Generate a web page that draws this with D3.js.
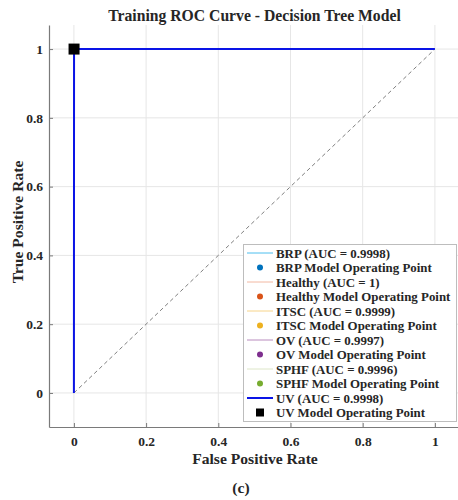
<!DOCTYPE html>
<html>
<head>
<meta charset="utf-8">
<script src="https://cdn.jsdelivr.net/npm/d3@7"></script>
<style>
  html, body { margin: 0; padding: 0; background: #fff; }
  svg { display: block; }
  text { font-family: "Liberation Serif", "Times New Roman", serif; font-weight: bold; fill: #262626; }
</style>
</head>
<body>
<svg id="chart" width="458" height="500"></svg>
<script>
// Class names and their training AUC values
const classes = ["BRP", "Healthy", "ITSC", "OV", "SPHF", "UV"];
const aucLabels = ["0.9998", "1", "0.9999", "0.9997", "0.9996", "0.9998"];
// Operating point of each one-vs-rest model (false positive rate, true positive rate)
const opFpr = [0.0004, 0, 0.0002, 0.0006, 0.0008, 0.0004];
const opTpr = [1, 1, 1, 1, 1, 1];
// Curve and marker colours
const lineColors = ["#4DBEEE", "#F2B8A2", "#F7D48A", "#B98CBE", "#DDE6C8", "#0A14E6"];
const pointColors = ["#0072BD", "#D95319", "#EDB120", "#7E2F8E", "#77AC30", "#000000"];
// Tick values
const xTicks = [0, 0.2, 0.4, 0.6, 0.8, 1];
const yTicks = [0, 0.2, 0.4, 0.6, 0.8, 1];

const svg = d3.select("#chart");
const plotLeft = 49, plotRight = 458, plotTop = 25, plotBottom = 427;

const x = d3.scaleLinear().domain([-0.069, 1.064]).range([plotLeft, plotRight]);
const y = d3.scaleLinear().domain([-0.099, 1.07]).range([plotBottom, plotTop]);

// Grid
const grid = svg.append("g");
grid.selectAll("line.gx").data(xTicks).join("line")
  .attr("x1", d => x(d)).attr("x2", d => x(d))
  .attr("y1", plotTop).attr("y2", plotBottom)
  .attr("stroke", "#e6e6e6").attr("stroke-width", 1);
grid.selectAll("line.gy").data(yTicks).join("line")
  .attr("y1", d => y(d)).attr("y2", d => y(d))
  .attr("x1", plotLeft).attr("x2", plotRight)
  .attr("stroke", "#e6e6e6").attr("stroke-width", 1);

// Axes (ticks pointing inward)
const fmt = d => d3.format("~g")(d);
const xAxis = svg.append("g").attr("transform", `translate(0,${plotBottom})`)
  .call(d3.axisBottom(x).tickValues(xTicks).tickFormat(fmt).tickSizeInner(-4).tickSizeOuter(0).tickPadding(9));
const yAxis = svg.append("g").attr("transform", `translate(${plotLeft},0)`)
  .call(d3.axisLeft(y).tickValues(yTicks).tickFormat(fmt).tickSizeInner(-4).tickSizeOuter(0).tickPadding(6));
[xAxis, yAxis].forEach(a => {
  a.attr("font-family", null).attr("font-size", null);
  a.select(".domain").attr("stroke", "#7a7a7a").attr("stroke-width", 1.2);
  a.selectAll(".tick line").attr("stroke", "#7a7a7a");
  a.selectAll(".tick text").style("font-size", "13.5px").attr("fill", "#262626");
});

// Chance diagonal
svg.append("line")
  .attr("x1", x(0)).attr("y1", y(0)).attr("x2", x(1)).attr("y2", y(1))
  .attr("stroke", "#7f7f7f").attr("stroke-width", 1).attr("stroke-dasharray", "4,3");

// ROC curves
const line = d3.line().x(d => x(d[0])).y(d => y(d[1]));
classes.forEach((c, i) => {
  const pts = [[0, 0], [opFpr[i], opTpr[i]], [1, 1]];
  svg.append("path").attr("d", line(pts))
    .attr("fill", "none")
    .attr("stroke", lineColors[i])
    .attr("stroke-width", i === 5 ? 2 : 1);
});

// Operating points
classes.forEach((c, i) => {
  if (i === 5) {
    svg.append("rect")
      .attr("x", x(opFpr[i]) - 5.5).attr("y", y(opTpr[i]) - 5.5)
      .attr("width", 11).attr("height", 11).attr("fill", pointColors[i]);
  } else {
    svg.append("circle")
      .attr("cx", x(opFpr[i])).attr("cy", y(opTpr[i])).attr("r", 3)
      .attr("fill", pointColors[i]);
  }
});

// Title and axis labels
svg.append("text").attr("x", 254.5).attr("y", 21).attr("text-anchor", "middle")
  .style("font-size", "15.7px").text("Training ROC Curve - Decision Tree Model");
svg.append("text").attr("x", 255).attr("y", 464).attr("text-anchor", "middle")
  .style("font-size", "15.6px").text("False Positive Rate");
svg.append("text").attr("transform", `translate(23,222) rotate(-90)`)
  .attr("text-anchor", "middle").style("font-size", "15.6px").text("True Positive Rate");
svg.append("text").attr("x", 241).attr("y", 493).attr("text-anchor", "middle")
  .style("font-size", "15.6px").text("(c)");

// Legend
const legend = svg.append("g");
legend.append("rect").attr("x", 243.5).attr("y", 244.5).attr("width", 213).attr("height", 177)
  .attr("fill", "#fff").attr("stroke", "#bdbdbd").attr("stroke-width", 1);
const entries = [];
classes.forEach((c, i) => {
  entries.push({ type: "line", i, label: `${c} (AUC = ${aucLabels[i]})` });
  entries.push({ type: "point", i, label: `${c} Model Operating Point` });
});
const rowY = k => 253 + k * 14.5;
entries.forEach((e, k) => {
  const cy = rowY(k);
  if (e.type === "line") {
    legend.append("line").attr("x1", 247).attr("x2", 273).attr("y1", cy).attr("y2", cy)
      .attr("stroke", lineColors[e.i]).attr("stroke-width", e.i === 5 ? 2 : 1);
  } else if (e.i === 5) {
    legend.append("rect").attr("x", 256).attr("y", cy - 4).attr("width", 8).attr("height", 8)
      .attr("fill", pointColors[e.i]);
  } else {
    legend.append("circle").attr("cx", 260).attr("cy", cy).attr("r", 3).attr("fill", pointColors[e.i]);
  }
  legend.append("text").attr("x", 276).attr("y", cy + 4.5).style("font-size", "12.9px").text(e.label);
});
</script>
</body>
</html>
